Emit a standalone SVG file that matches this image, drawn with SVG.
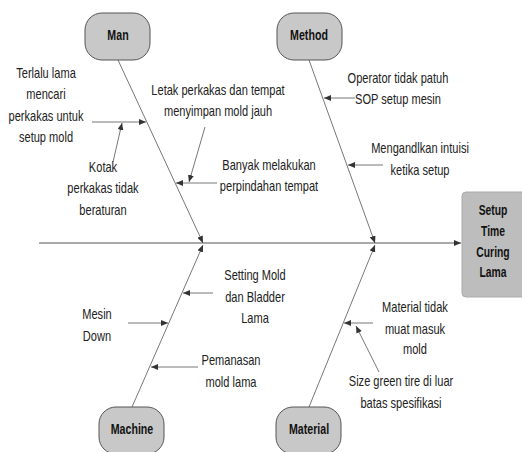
<svg xmlns="http://www.w3.org/2000/svg" width="522" height="452" viewBox="0 0 522 452">
<defs>
<marker id="ah" markerUnits="userSpaceOnUse" markerWidth="8" markerHeight="6" refX="7" refY="3" orient="auto">
<path d="M0,0 L7,3 L0,6 Z" fill="#333"/>
</marker>
<style>
.t{font-family:"Liberation Sans",Arial,sans-serif;font-size:14px;fill:#222;text-anchor:middle}
.b{font-family:"Liberation Sans",Arial,sans-serif;font-size:14px;font-weight:bold;fill:#111;text-anchor:middle}
.cat{fill:#c8c8c8;stroke:#555;stroke-width:1}
.ln{stroke:#777;stroke-width:1;fill:none;marker-end:url(#ah)}
.main{stroke:#555;stroke-width:1.2;fill:none;marker-end:url(#ah)}
</style>
</defs>
<rect width="522" height="452" fill="#fff"/>
<g id="connectors">
<line class="main" x1="39" y1="243" x2="461" y2="243"/>
<line class="ln" x1="118" y1="60" x2="203" y2="243"/>
<line class="ln" x1="309" y1="60" x2="375" y2="243"/>
<line class="ln" x1="132" y1="407" x2="203" y2="245"/>
<line class="ln" x1="309" y1="407" x2="375" y2="245"/>
<line class="ln" x1="92" y1="122" x2="146" y2="122"/>
<line class="ln" x1="113" y1="162" x2="122" y2="123"/>
<line class="ln" x1="205" y1="127" x2="189" y2="182"/>
<line class="ln" x1="217" y1="183" x2="176" y2="183"/>
<line class="ln" x1="355" y1="98" x2="324" y2="98"/>
<line class="ln" x1="383" y1="165" x2="348" y2="165"/>
<line class="ln" x1="213" y1="293" x2="183" y2="293"/>
<line class="ln" x1="128" y1="323" x2="168" y2="323"/>
<line class="ln" x1="198" y1="367" x2="151" y2="367"/>
<line class="ln" x1="373" y1="323" x2="344" y2="323"/>
<line class="ln" x1="379" y1="372" x2="356" y2="326"/>
</g>
<g id="man">
<rect class="cat" x="85" y="13" width="65" height="47" rx="17" ry="17"/>
<g transform="translate(118,0) scale(0.76,1)"><text class="b" x="0" y="40.5">Man</text></g>
</g>
<g id="method">
<rect class="cat" x="277" y="13" width="65" height="47" rx="17" ry="17"/>
<g transform="translate(309,0) scale(0.76,1)"><text class="b" x="0" y="40.5">Method</text></g>
</g>
<g id="machine">
<rect class="cat" x="99" y="407" width="65" height="47" rx="17" ry="17"/>
<g transform="translate(132,0) scale(0.76,1)"><text class="b" x="0" y="434.5">Machine</text></g>
</g>
<g id="material">
<rect class="cat" x="276" y="407" width="65" height="47" rx="17" ry="17"/>
<g transform="translate(309,0) scale(0.76,1)"><text class="b" x="0" y="434.5">Material</text></g>
</g>
<g id="effect">
<rect x="462" y="192" width="66" height="105" rx="4" ry="4" fill="#bdbdbd" stroke="#aaa" stroke-width="1"/>
<g transform="translate(493,0) scale(0.74,1)">
<text class="b" x="0" y="215.5">Setup</text>
<text class="b" x="0" y="236">Time</text>
<text class="b" x="0" y="257">Curing</text>
<text class="b" x="0" y="277.5">Lama</text>
</g>
</g>
<g id="c-terlalu" transform="translate(46,0) scale(0.79,1)">
<text class="t" x="0" y="78">Terlalu lama</text>
<text class="t" x="0" y="99.5">mencari</text>
<text class="t" x="0" y="121">perkakas untuk</text>
<text class="t" x="0" y="142.5">setup mold</text>
</g>
<g id="c-kotak" transform="translate(103,0) scale(0.79,1)">
<text class="t" x="0" y="172">Kotak</text>
<text class="t" x="0" y="193.5">perkakas tidak</text>
<text class="t" x="0" y="215">beraturan</text>
</g>
<g id="c-letak" transform="translate(218,0) scale(0.79,1)">
<text class="t" x="0" y="95">Letak perkakas dan tempat</text>
<text class="t" x="0" y="116">menyimpan mold jauh</text>
</g>
<g id="c-banyak" transform="translate(269,0) scale(0.79,1)">
<text class="t" x="0" y="170">Banyak melakukan</text>
<text class="t" x="0" y="191">perpindahan tempat</text>
</g>
<g id="c-operator" transform="translate(398,0) scale(0.79,1)">
<text class="t" x="0" y="83">Operator tidak patuh</text>
<text class="t" x="0" y="104.5">SOP setup mesin</text>
</g>
<g id="c-mengandlkan" transform="translate(420,0) scale(0.79,1)">
<text class="t" x="0" y="153">Mengandlkan intuisi</text>
<text class="t" x="0" y="175">ketika setup</text>
</g>
<g id="c-setting" transform="translate(255,0) scale(0.79,1)">
<text class="t" x="0" y="280">Setting Mold</text>
<text class="t" x="0" y="302">dan Bladder</text>
<text class="t" x="0" y="323">Lama</text>
</g>
<g id="c-mesin" transform="translate(97,0) scale(0.79,1)">
<text class="t" x="0" y="319">Mesin</text>
<text class="t" x="0" y="341">Down</text>
</g>
<g id="c-pemanasan" transform="translate(231,0) scale(0.79,1)">
<text class="t" x="0" y="365">Pemanasan</text>
<text class="t" x="0" y="387">mold lama</text>
</g>
<g id="c-materialtidak" transform="translate(415,0) scale(0.79,1)">
<text class="t" x="0" y="312.5">Material tidak</text>
<text class="t" x="0" y="334">muat masuk</text>
<text class="t" x="0" y="354">mold</text>
</g>
<g id="c-size" transform="translate(401,0) scale(0.79,1)">
<text class="t" x="0" y="386">Size green tire di luar</text>
<text class="t" x="0" y="408">batas spesifikasi</text>
</g>
</svg>
